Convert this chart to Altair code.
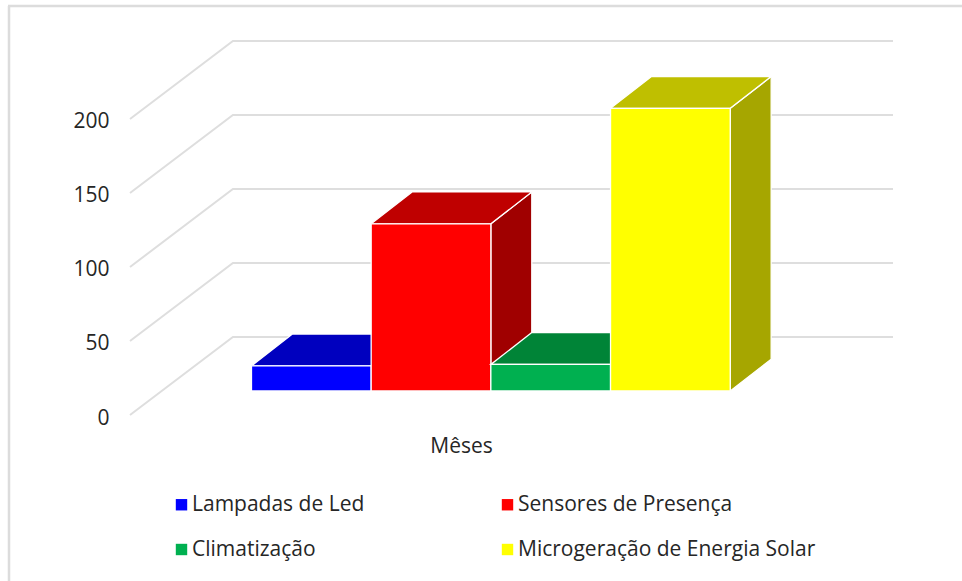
import altair as alt
import pandas as pd

# Categories and values of the bars
categories = ["Lampadas de Led", "Sensores de Presença", "Climatização", "Microgeração de Energia Solar"]
values = [17, 113, 18, 191]
front_colors = ["#0000ff", "#ff0000", "#00b050", "#ffff00"]
top_colors = ["#0000bf", "#bf0000", "#008437", "#bfbf00"]
side_colors = ["#0000a0", "#a00000", "#006e2e", "#a6a600"]
y_ticks = [0, 50, 100, 150, 200]

# Pseudo-3D geometry, in scale units (one x unit is one bar width)
WALL_DEPTH_X = 0.86
WALL_DEPTH_Y = 52.7
WALL_END_X = 5.36
WALL_START_X = -1.015
BAR_DEPTH_X = 0.342
BAR_DEPTH_Y = 21.5
FLOOR_Y = 16.2

x_scale = alt.Scale(domain=[WALL_START_X, WALL_END_X], nice=False, zero=False)
y_scale = alt.Scale(domain=[0, 252.7], nice=False, zero=False)
color_scale = alt.Scale(domain=categories, range=front_colors)

x_axis = alt.Axis(
    title="Mêses", domain=False, ticks=False, labels=False, grid=False,
    titleFont="Open Sans", titleFontSize=21, titleFontWeight="normal", titleColor="#262626",
    titleX=331, titleY=31, titleBaseline="middle", titleAlign="center",
)
y_axis = alt.Axis(
    title=None, values=y_ticks, domain=False, ticks=False, grid=False, labelPadding=21,
    labelOffset=3, labelFont="Open Sans", labelFontSize=21, labelColor="#262626",
)
x_q = lambda field: alt.X(field, scale=x_scale, axis=x_axis)
y_q = lambda field: alt.Y(field, scale=y_scale, axis=y_axis)

# Frame: only the left and top edges are visible
frame_left = alt.Chart(pd.DataFrame({"a": [0]})).mark_rule(
    color="#dcdcdc", strokeWidth=2.5
).encode(x=alt.value(-121), y=alt.value(-35), y2=alt.value(540))
frame_top = alt.Chart(pd.DataFrame({"a": [0]})).mark_rule(
    color="#dcdcdc", strokeWidth=2.5
).encode(x=alt.value(-122), x2=alt.value(832), y=alt.value(-35))

# Grid: each line runs along the side wall and then across the back wall
grid_rows = []
for tick in y_ticks:
    grid_rows.append({"tick": tick, "step": 0, "gx": WALL_START_X, "gy": tick})
    grid_rows.append({"tick": tick, "step": 1, "gx": WALL_START_X + WALL_DEPTH_X, "gy": tick + WALL_DEPTH_Y})
    grid_rows.append({"tick": tick, "step": 2, "gx": WALL_END_X, "gy": tick + WALL_DEPTH_Y})

grid = alt.Chart(pd.DataFrame(grid_rows)).mark_line(color="#dedede", strokeWidth=2).encode(
    x=x_q("gx:Q"),
    y=y_q("gy:Q"),
    detail="tick:N",
    order="step:Q",
)

legend = alt.Legend(
    title=None, orient="none", legendX=41, legendY=453, columns=2, direction="horizontal",
    symbolType="square", symbolSize=130, symbolStrokeWidth=0, labelFont="Open Sans",
    labelFontSize=21, labelLimit=400, labelColor="#262626", labelOffset=0,
    rowPadding=23, columnPadding=132,
)

# Each bar is drawn as side, top and front faces, from left to right
layers = [frame_left, frame_top, grid]
for i, (cat, val) in enumerate(zip(categories, values)):
    top = FLOOR_Y + val
    side_df = pd.DataFrame({
        "px": [i + 1, i + 1 + BAR_DEPTH_X],
        "low": [FLOOR_Y, FLOOR_Y + BAR_DEPTH_Y],
        "high": [top, top + BAR_DEPTH_Y],
    })
    side = alt.Chart(side_df).mark_area(
        orient="vertical", color=side_colors[i], stroke="#ffffff", strokeWidth=1.3
    ).encode(x=x_q("px:Q"), y=y_q("low:Q"), y2="high:Q")
    top_df = pd.DataFrame({
        "py": [top, top + BAR_DEPTH_Y],
        "left": [i, i + BAR_DEPTH_X],
        "right": [i + 1, i + 1 + BAR_DEPTH_X],
    })
    roof = alt.Chart(top_df).mark_area(
        orient="horizontal", color=top_colors[i], stroke="#ffffff", strokeWidth=1.3
    ).encode(y=y_q("py:Q"), x=x_q("left:Q"), x2="right:Q")
    front_df = pd.DataFrame({
        "category": [cat], "value": [val], "x0": [i], "x1": [i + 1],
    })
    front = alt.Chart(front_df).transform_calculate(
        y0=f"{FLOOR_Y}", y1=f"{FLOOR_Y} + datum.value"
    ).mark_bar(stroke="#ffffff", strokeWidth=1.3).encode(
        x=x_q("x0:Q"),
        x2="x1:Q",
        y=y_q("y0:Q"),
        y2="y1:Q",
        color=alt.Color("category:N", scale=color_scale, legend=legend),
    )
    layers += [side, roof, front]

chart = alt.layer(*layers).resolve_scale(x="shared", y="shared").properties(
    width=763,
    height=374,
    padding={"left": 130, "top": 41, "right": 69, "bottom": 166},
    autosize=alt.AutoSizeParams(type="none"),
    background="#ffffff",
).configure_view(stroke=None)

chart.save("out.html", embed_options={"renderer": "svg", "actions": False})
